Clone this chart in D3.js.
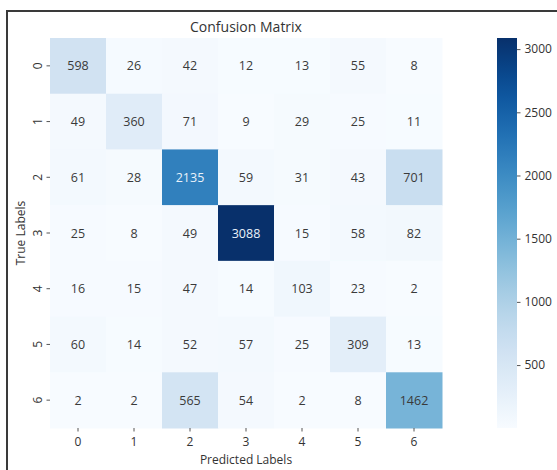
<!DOCTYPE html>
<html>
<head>
<meta charset="utf-8">
<script src="https://cdn.jsdelivr.net/npm/d3@7"></script>
<style>
  body { margin: 0; background: #fff; }
  text { font-family: "Open Sans", sans-serif; fill: #333; }
</style>
</head>
<body>
<div id="chart"></div>
<script>
// confusion matrix data, rows = true label, cols = predicted
const labels = ['0', '1', '2', '3', '4', '5', '6']
const row0 = [598, 26, 42, 12, 13, 55, 8]
const row1 = [49, 360, 71, 9, 29, 25, 11]
const row2 = [61, 28, 2135, 59, 31, 43, 701]
const row3 = [25, 8, 49, 3088, 15, 58, 82]
const row4 = [16, 15, 47, 14, 103, 23, 2]
const row5 = [60, 14, 52, 57, 25, 309, 13]
const row6 = [2, 2, 565, 54, 2, 8, 1462]
const matrix = [row0, row1, row2, row3, row4, row5, row6]
const colorbarTicks = [500, 1000, 1500, 2000, 2500, 3000]

const W = 557, H = 470
const svg = d3.select('#chart').append('svg')
  .attr('width', W).attr('height', H)

// outer frame (screenshot border)
svg.append('path')
  .attr('d', `M7,${H + 5} L7,11 L${W + 5},11`)
  .attr('fill', 'none').attr('stroke', '#3a3a3a').attr('stroke-width', 2)

const mLeft = 50, mTop = 38, mRight = 442, mBottom = 428

const x = d3.scaleBand().domain(labels).range([mLeft, mRight])
const y = d3.scaleBand().domain(labels).range([mTop, mBottom])

const all = matrix.flat()
const vmin = d3.min(all), vmax = d3.max(all)
const color = d3.scaleSequential(d3.interpolateBlues).domain([vmin, vmax])

// flatten into cells
let cells = []
matrix.forEach((r, i) => r.forEach((v, j) => cells.push({ row: labels[i], col: labels[j], v: v })))

const g = svg.append('g')
g.selectAll('rect')
  .data(cells)
  .join('rect')
  .attr('x', d => x(d.col))
  .attr('y', d => y(d.row))
  .attr('width', x.bandwidth() + 0.5)
  .attr('height', y.bandwidth() + 0.5)
  .attr('fill', d => color(d.v))

// annotations: white on dark cells
const lum = (c) => {
  const rgb = d3.rgb(c)
  const f = (u) => { u /= 255; return u <= 0.03928 ? u / 12.92 : Math.pow((u + 0.055) / 1.055, 2.4) }
  return 0.2126 * f(rgb.r) + 0.7152 * f(rgb.g) + 0.0722 * f(rgb.b)
}
g.selectAll('text')
  .data(cells)
  .join('text')
  .attr('x', d => x(d.col) + x.bandwidth() / 2)
  .attr('y', d => y(d.row) + y.bandwidth() / 2)
  .attr('text-anchor', 'middle')
  .attr('dominant-baseline', 'central')
  .style('font-size', '12.5px')
  .style('fill', d => lum(color(d.v)) < 0.25 ? '#eaf2fa' : '#3a3a3a')
  .text(d => d.v)

// x axis
const xAxis = svg.append('g')
  .attr('transform', `translate(0,${mBottom})`)
  .call(d3.axisBottom(x).tickSize(3.5).tickPadding(6))
xAxis.select('.domain').remove()
xAxis.selectAll('line').attr('stroke', '#555')
xAxis.selectAll('text').style('font-size', '12px').style('fill', '#333')

// y axis, labels rotated
const yAxis = svg.append('g')
  .attr('transform', `translate(${mLeft},0)`)
  .call(d3.axisLeft(y).tickSize(3.5).tickPadding(4))
yAxis.select('.domain').remove()
yAxis.selectAll('line').attr('stroke', '#555')
yAxis.selectAll('text')
  .style('font-size', '12px').style('fill', '#333')
  .attr('text-anchor', 'middle')
  .attr('dy', null)
  .attr('x', null)
  .attr('transform', 'translate(-13,0) rotate(-90)')
  .attr('dominant-baseline', 'central')

svg.append('text')
  .attr('x', (mLeft + mRight) / 2).attr('y', 32)
  .attr('text-anchor', 'middle')
  .style('font-size', '14px')
  .text('Confusion Matrix')

svg.append('text')
  .attr('x', (mLeft + mRight) / 2).attr('y', 464)
  .attr('text-anchor', 'middle')
  .style('font-size', '12px')
  .text('Predicted Labels')

svg.append('text')
  .attr('transform', `translate(25,${(mTop + mBottom) / 2}) rotate(-90)`)
  .attr('text-anchor', 'middle')
  .style('font-size', '12px')
  .text('True Labels')

// colorbar
const cbX = 497, cbW = 20
const cbScale = d3.scaleLinear().domain([vmin, vmax]).range([mBottom, mTop])
const defs = svg.append('defs')
const grad = defs.append('linearGradient').attr('id', 'cbgrad')
  .attr('x1', 0).attr('y1', 1).attr('x2', 0).attr('y2', 0)
d3.range(0, 1.0001, 0.05).forEach(t => {
  grad.append('stop').attr('offset', t).attr('stop-color', d3.interpolateBlues(t))
})
svg.append('rect')
  .attr('x', cbX).attr('y', mTop)
  .attr('width', cbW).attr('height', mBottom - mTop)
  .attr('fill', 'url(#cbgrad)')

const cbAxis = svg.append('g')
  .attr('transform', `translate(${cbX + cbW},0)`)
  .call(d3.axisRight(cbScale).tickValues(colorbarTicks).tickFormat(d3.format('d')).tickSize(3.5).tickPadding(4))
cbAxis.select('.domain').remove()
cbAxis.selectAll('line').attr('stroke', '#555')
cbAxis.selectAll('text').style('font-size', '12px').style('fill', '#333')
</script>
</body>
</html>
